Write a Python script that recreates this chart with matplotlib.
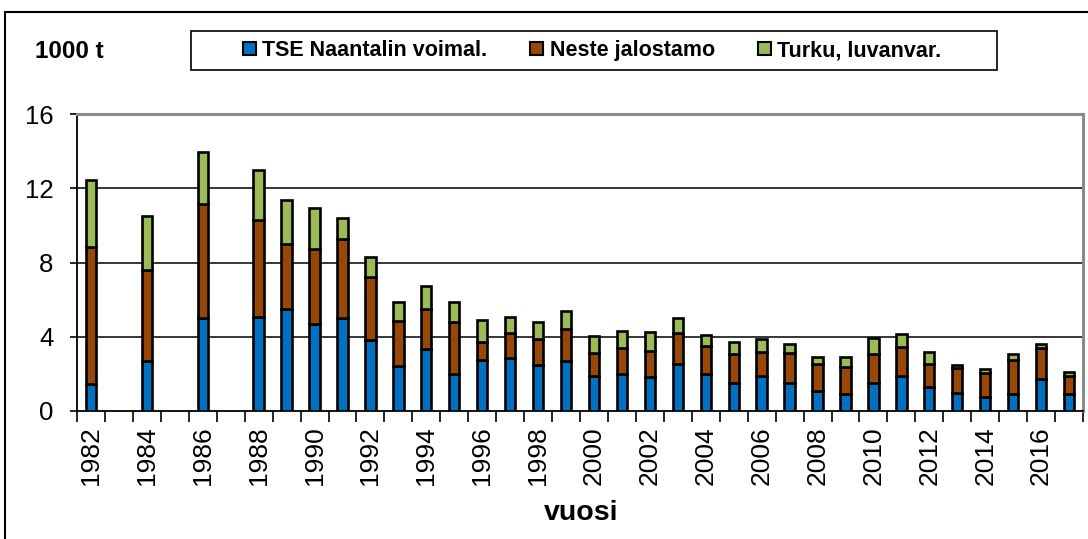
import matplotlib
matplotlib.use("Agg")
import matplotlib.pyplot as plt
from matplotlib.patches import Rectangle, Patch
import numpy as np

plt.rcParams['font.family'] = ['Liberation Sans', 'DejaVu Sans']

years = list(range(1982, 2018))
# None = no data for that year
tse = [1.45, None, 2.70, None, 5.03, None, 5.08, 5.51, 4.69, 5.03, 3.83, 2.42,
       3.32, 1.98, 2.75, 2.87, 2.48, 2.69, 1.90, 1.98, 1.85, 2.53, 1.98, 1.49,
       1.89, 1.49, 1.10, 0.92, 1.49, 1.90, 1.28, 0.99, 0.77, 0.92, 1.71, 0.92]
neste = [7.40, None, 4.90, None, 6.10, None, 5.21, 3.49, 4.02, 4.24, 3.41, 2.43,
         2.18, 2.80, 0.98, 1.35, 1.40, 1.71, 1.24, 1.40, 1.40, 1.66, 1.54, 1.58,
         1.31, 1.62, 1.42, 1.43, 1.56, 1.57, 1.24, 1.34, 1.29, 1.83, 1.67, 0.97]
turku = [3.60, None, 2.92, None, 2.84, None, 2.71, 2.37, 2.21, 1.11, 1.07, 1.04,
         1.23, 1.11, 1.17, 0.83, 0.90, 1.00, 0.88, 0.91, 0.99, 0.80, 0.56, 0.66,
         0.68, 0.48, 0.37, 0.54, 0.87, 0.68, 0.64, 0.15, 0.20, 0.30, 0.21, 0.20]
series_names = ["TSE Naantalin voimal.", "Neste jalostamo", "Turku, luvanvar."]
colors = ["#0070C0", "#974706", "#9BBB59"]
tick_years = list(range(1982, 2017, 2))

W, H = 1088, 539
fig = plt.figure(figsize=(W / 100, H / 100), dpi=100)

# outer chart frame
fig.patches.append(Rectangle((5 / W, -0.1), 1.2, (1 - 12 / H) + 0.1,
                             transform=fig.transFigure, fill=False,
                             edgecolor="black", linewidth=1.5, zorder=0))
# legend box
fig.patches.append(Rectangle((191 / W, 1 - 70 / H), (997 - 191) / W, 39 / H,
                             transform=fig.transFigure, fill=False,
                             edgecolor="black", linewidth=1.2, zorder=0))

ax = fig.add_axes([77 / W, 1 - 411 / H, (1083 - 77) / W, (411 - 114) / H])

idx = [i for i, v in enumerate(tse) if v is not None]
x = np.array(idx, dtype=float)
b = np.array([tse[i] for i in idx])
n = np.array([neste[i] for i in idx])
t = np.array([turku[i] for i in idx])
bw = 0.37
lw = 1.9
ax.bar(x, b, bw, color=colors[0], edgecolor="black", linewidth=lw, zorder=3)
ax.bar(x, n, bw, bottom=b, color=colors[1], edgecolor="black", linewidth=lw, zorder=3)
ax.bar(x, t, bw, bottom=b + n, color=colors[2], edgecolor="black", linewidth=lw, zorder=3)

ax.set_xlim(-0.5, len(years) - 0.5)
ax.set_ylim(0, 16)
ax.set_yticks([0, 4, 8, 12, 16])
ax.set_yticklabels(["0", "4", "8", "12", "16"], fontsize=18.5)
ax.tick_params(axis="y", length=5, width=1.2, pad=12, direction="out")
for yv in [4, 8, 12]:
    ax.axhline(yv, color="black", linewidth=1.1, zorder=1)

ax.set_xticks([years.index(y) for y in tick_years])
ax.set_xticklabels([str(y) for y in tick_years], rotation=90, fontsize=19)
ax.tick_params(axis="x", length=0, pad=11)
ax.set_xticks(np.arange(-0.5, len(years) + 0.5, 1), minor=True)
ax.tick_params(axis="x", which="minor", length=8, width=1.2, direction="out")

for s in ["left", "bottom"]:
    ax.spines[s].set_color("black")
    ax.spines[s].set_linewidth(1.3)
for s in ["top", "right"]:
    ax.spines[s].set_color("#8a8a8a")
    ax.spines[s].set_linewidth(2.2)

fig.text(581 / W, 1 - 513 / H, "vuosi", ha="center", va="center",
         fontsize=20.5, fontweight="bold")
fig.text(35 / W, 1 - 51 / H, "1000 t", ha="left", va="center",
         fontsize=17.5, fontweight="bold")

handles = [Patch(facecolor=c, edgecolor="black", linewidth=1.5) for c in colors]
leg = fig.legend(handles, series_names, loc="center",
                 bbox_to_anchor=(592 / W, 1 - 50.5 / H), ncol=3,
                 prop={"weight": "bold", "size": 15.5}, frameon=False,
                 handlelength=0.6, handleheight=0.6, handletextpad=0.3,
                 columnspacing=2.0, borderpad=0.3, borderaxespad=0)

fig.savefig("out.png", dpi=100)
